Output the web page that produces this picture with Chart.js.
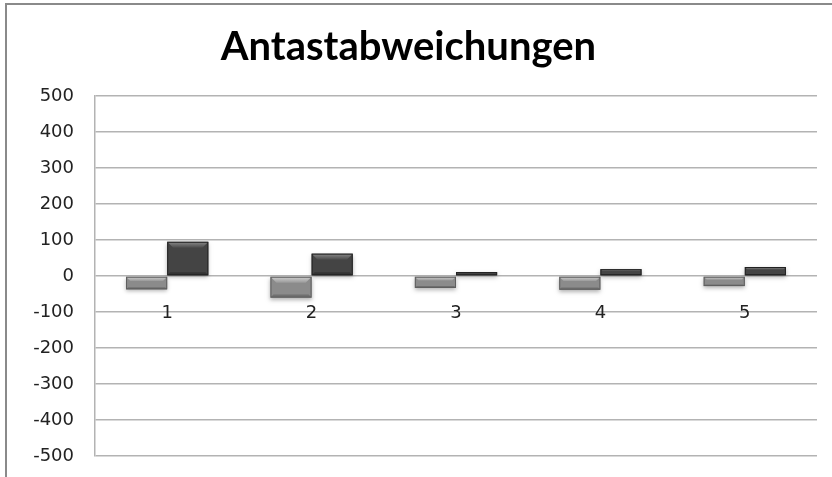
<!DOCTYPE html>
<html lang="de">
<head>
    <meta charset="UTF-8">
    <title>Antastabweichungen</title>
    <script src="https://cdn.jsdelivr.net/npm/chart.js"></script>
    <style>
        html, body {
            margin: 0;
            padding: 0;
            width: 832px;
            height: 477px;
            overflow: hidden;
            background: #ffffff;
        }
        .frame {
            position: absolute;
            left: 5px;
            top: 3px;
            width: 900px;
            height: 600px;
            border: 2px solid #8a8a8a;
        }
        #chart {
            position: absolute;
            left: 0;
            top: 0;
        }
    </style>
</head>
<body>
    <div class="frame"></div>
    <canvas id="chart" width="832" height="477"></canvas>
    <script>
        const categories = ['1', '2', '3', '4', '5'];
        const seriesLight = [-37, -60, -33, -38, -28];
        const seriesDark = [95, 62, 11, 19, 25];
        const yTicks = [500, 400, 300, 200, 100, 0, -100, -200, -300, -400, -500];

        const tickFont = { family: "'DejaVu Sans', sans-serif", size: 18 };

        // bevel look like the old office charts
        const bevelPlugin = {
            id: 'bevel',
            afterDatasetsDraw(chart) {
                const ctx = chart.ctx;
                const styles = [
                    { top: ['#d0d0d0', '#9a9a9a'], mid: '#8b8b8b', dark: '#707070', edge: '#5e5e5e' },
                    { top: ['#8a8a8a', '#4a4a4a'], mid: '#444444', dark: '#333333', edge: '#222222' }
                ];
                chart.data.datasets.forEach((ds, i) => {
                    const meta = chart.getDatasetMeta(i);
                    const s = styles[i];
                    meta.data.forEach(bar => {
                        const p = bar.getProps(['x', 'y', 'base', 'width'], true);
                        const l = p.x - p.width / 2;
                        const r = p.x + p.width / 2;
                        const t = Math.min(p.y, p.base);
                        const b = Math.max(p.y, p.base);
                        const h = b - t;
                        const w = r - l;
                        const k = Math.min(6, h / 3);
                        ctx.save();
                        ctx.shadowColor = 'rgba(0,0,0,0.3)';
                        ctx.shadowBlur = 4;
                        ctx.shadowOffsetY = 2;
                        ctx.fillStyle = s.mid;
                        ctx.fillRect(l, t, w, h);
                        ctx.restore();
                        // top bevel
                        const g = ctx.createLinearGradient(0, t, 0, t + k);
                        g.addColorStop(0, s.top[0]);
                        g.addColorStop(1, s.top[1]);
                        ctx.fillStyle = g;
                        ctx.beginPath();
                        ctx.moveTo(l, t); ctx.lineTo(r, t);
                        ctx.lineTo(r - k, t + k); ctx.lineTo(l + k, t + k);
                        ctx.closePath(); ctx.fill();
                        // bottom bevel
                        ctx.fillStyle = s.dark;
                        ctx.beginPath();
                        ctx.moveTo(l, b); ctx.lineTo(r, b);
                        ctx.lineTo(r - k / 2, b - k / 2); ctx.lineTo(l + k / 2, b - k / 2);
                        ctx.closePath(); ctx.fill();
                        ctx.strokeStyle = s.edge;
                        ctx.lineWidth = 1;
                        ctx.strokeRect(l + 0.5, t + 0.5, w - 1, h - 1);
                    });
                });
            }
        };

        new Chart(document.getElementById('chart'), {
            type: 'bar',
            data: {
                labels: categories,
                datasets: [
                    { label: 'Reihe 1', data: seriesLight, backgroundColor: 'rgba(0,0,0,0)' },
                    { label: 'Reihe 2', data: seriesDark, backgroundColor: 'rgba(0,0,0,0)' }
                ]
            },
            options: {
                responsive: false,
                animation: false,
                categoryPercentage: 0.57,
                barPercentage: 1.0,
                layout: {
                    padding: { left: 0, right: 15, bottom: 21 }
                },
                scales: {
                    x: {
                        type: 'category',
                        position: { y: 0 },
                        grid: { display: false },
                        border: { display: false },
                        ticks: {
                            color: '#222',
                            padding: 19,
                            font: tickFont
                        }
                    },
                    y: {
                        min: -500,
                        max: 500,
                        afterBuildTicks(scale) {
                            scale.ticks = yTicks.map(v => ({ value: v }));
                        },
                        afterFit(scale) {
                            // fixed label column, no extra top/bottom room from tick padding
                            scale.width = 95;
                            scale.paddingTop = 0;
                            scale.paddingBottom = 0;
                        },
                        grid: {
                            color: '#b3b3b3',
                            lineWidth: 1.5,
                            drawTicks: false
                        },
                        border: { color: '#b3b3b3', width: 1.5 },
                        ticks: {
                            color: '#222',
                            padding: 21,
                            font: tickFont
                        }
                    }
                },
                plugins: {
                    legend: { display: false },
                    tooltip: { enabled: false },
                    title: {
                        display: true,
                        text: 'Antastabweichungen',
                        color: '#000',
                        font: { family: 'Lato', size: 40, weight: 'bold' },
                        padding: { top: 23, bottom: 25 }
                    }
                }
            },
            plugins: [bevelPlugin]
        });
    </script>
</body>
</html>
